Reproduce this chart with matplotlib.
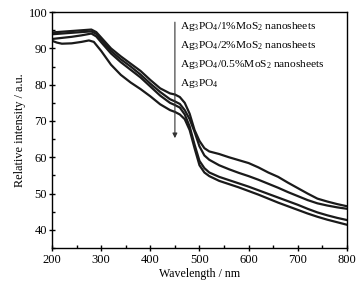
import matplotlib
matplotlib.use("Agg")
import matplotlib.pyplot as plt

plt.rcParams['font.family'] = 'Liberation Serif'
plt.rcParams['mathtext.fontset'] = 'custom'
plt.rcParams['mathtext.rm'] = 'Liberation Serif'
plt.rcParams['mathtext.it'] = 'Liberation Serif:italic'

# wavelengths (nm) and relative intensity
wl = [200, 220, 240, 260, 280, 290, 300, 320, 340, 360, 380, 400, 420, 440,
      450, 460, 470, 480, 490, 500, 510, 520, 540, 560, 580, 600, 620, 640,
      660, 680, 700, 720, 740, 760, 780, 800]
mos2_1 = [94.4, 94.6, 94.8, 95.0, 95.2, 94.5, 93.0, 90.0, 87.8, 85.8, 83.8, 81.3,
          79.0, 77.6, 77.3, 76.6, 75.0, 72.0, 67.5, 64.5, 62.5, 61.6, 60.9, 60.0,
          59.2, 58.4, 57.2, 55.8, 54.6, 53.0, 51.5, 50.0, 48.6, 47.8, 47.1, 46.5]
mos2_2 = [93.9, 94.1, 94.3, 94.5, 94.7, 94.0, 92.4, 89.3, 87.0, 85.0, 82.8, 80.3,
          78.0, 76.0, 75.4, 74.7, 73.0, 70.5, 67.0, 63.0, 60.5, 59.3, 57.8, 56.7,
          55.7, 54.8, 53.8, 52.7, 51.6, 50.4, 49.3, 48.2, 47.3, 46.7, 46.2, 45.8]
mos2_05 = [92.6, 92.9, 93.2, 93.6, 94.1, 93.3, 91.7, 88.6, 86.2, 84.1, 82.0, 79.5,
           77.0, 75.0, 74.4, 73.7, 71.8, 68.5, 63.5, 59.0, 57.0, 55.8, 54.6, 53.7,
           52.8, 51.9, 50.9, 49.9, 48.9, 47.9, 46.9, 45.8, 44.8, 44.0, 43.3, 42.7]
wl_ag = [200, 210, 220, 240, 260, 275, 285, 300, 320, 340, 360, 380, 400, 420,
         440, 450, 460, 470, 480, 490, 500, 510, 520, 540, 560, 580, 600, 620,
         640, 660, 680, 700, 720, 740, 760, 780, 800]
ag3po4 = [92.1, 91.6, 91.3, 91.4, 91.8, 92.2, 91.8, 89.3, 85.5, 82.7, 80.6, 78.8,
          76.8, 74.6, 73.0, 72.5, 71.8, 70.5, 67.5, 62.5, 57.8, 55.8, 54.8, 53.5,
          52.6, 51.7, 50.7, 49.7, 48.6, 47.5, 46.5, 45.5, 44.5, 43.6, 42.8, 42.1, 41.4]

labels = [r'Ag$_3$PO$_4$/1%MoS$_2$ nanosheets',
          r'Ag$_3$PO$_4$/2%MoS$_2$ nanosheets',
          r'Ag$_3$PO$_4$/0.5%MoS$_2$ nanosheets',
          r'Ag$_3$PO$_4$']

fig = plt.figure(figsize=(3.64, 2.89), dpi=100)
ax = fig.add_axes([0.143, 0.142, 0.81, 0.816])

for y in (mos2_1, mos2_2, mos2_05):
    ax.plot(wl, y, color='#1a1a1a', lw=1.6)
ax.plot(wl_ag, ag3po4, color='#1a1a1a', lw=1.6)

ax.annotate('', xy=(450, 64.5), xytext=(450, 98),
            arrowprops=dict(arrowstyle='-|>', color='#333333', lw=0.8,
                            mutation_scale=7))
for i, s in enumerate(labels):
    ax.text(460, 96.0 - i * 5.2, s, fontsize=8.2, va='center', ha='left')

ax.set_xlim(200, 800)
ax.set_ylim(35, 100)
ax.set_xticks(range(200, 801, 100))
ax.set_xticks(range(250, 800, 100), minor=True)
ax.set_yticks(range(40, 101, 10))
ax.set_yticks(range(35, 100, 10), minor=True)
ax.tick_params(which='major', direction='inout', length=4, width=1, labelsize=9, pad=1.5)
ax.tick_params(which='minor', direction='in', length=2.5, width=1)
ax.tick_params(axis='x', which='major', pad=2.5)
for sp in ax.spines.values():
    sp.set_linewidth(1.0)

ax.set_xlabel('Wavelength / nm', fontsize=8.6, labelpad=1)
ax.set_ylabel('Relative intensity / a.u.', fontsize=8.8, labelpad=2)

fig.savefig('out.png', dpi=100)
